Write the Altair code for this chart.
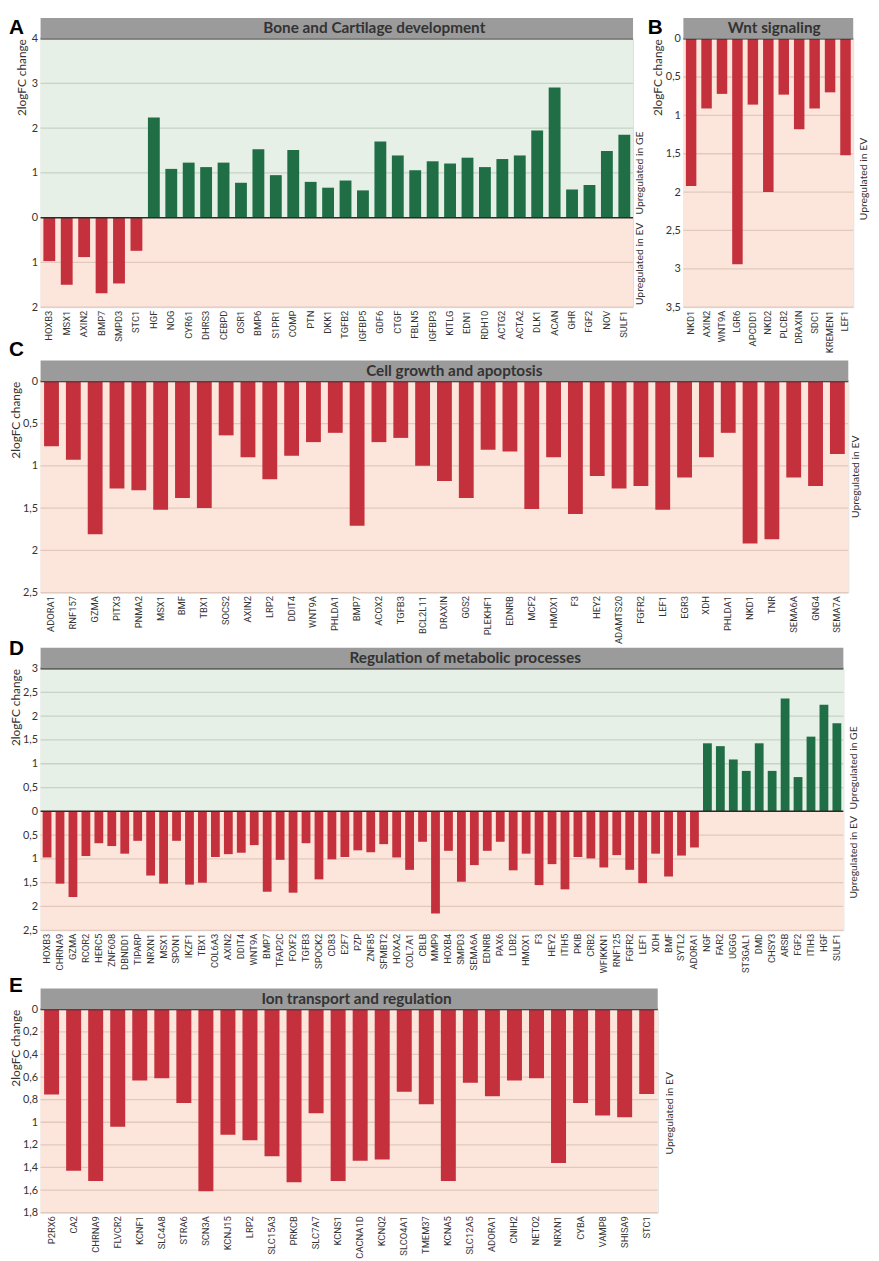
import altair as alt
import pandas as pd

FONT = "Lato"
XFONT = "Roboto"
GREEN_BG = "#e6f0e6"
PINK_BG = "#fce6dc"
GREEN_BAR = "#1f6e45"
RED_BAR = "#c5303d"
GRID_G = "#c6d3c6"
GRID_P = "#e3c8bd"
HEADER = "#9b9b9b"
DARK = "#2b2b2b"
TXT = "#333333"

# ---------------- data (negative = upregulated in EV, positive = upregulated in GE)
a_genes = ["HOXB3", "MSX1", "AXIN2", "BMP7", "SMPD3", "STC1", "HGF", "NOG", "CYR61", "DHRS3",
           "CEBPD", "OSR1", "BMP6", "S1PR1", "COMP", "PTN", "DKK1", "TGFB2", "IGFBP5", "GDF6",
           "CTGF", "FBLN5", "IGFBP3", "KITLG", "EDN1", "RDH10", "ACTG2", "ACTA2", "DLK1", "ACAN",
           "GHR", "FGF2", "NOV", "SULF1"]
a_values = [-0.97, -1.50, -0.88, -1.69, -1.47, -0.74, 2.24, 1.09, 1.23, 1.13,
            1.23, 0.78, 1.53, 0.95, 1.51, 0.80, 0.67, 0.83, 0.61, 1.70,
            1.39, 1.06, 1.26, 1.21, 1.34, 1.13, 1.31, 1.39, 1.95, 2.91,
            0.63, 0.73, 1.49, 1.85]

b_genes = ["NKD1", "AXIN2", "WNT9A", "LGR6", "APCDD1", "NKD2", "PLCB2", "DRAXIN", "SDC1",
           "KREMEN1", "LEF1"]
b_values = [-1.92, -0.91, -0.72, -2.94, -0.86, -2.00, -0.73, -1.18, -0.91, -0.70, -1.52]

c_genes = ["ADORA1", "RNF157", "GZMA", "PITX3", "PNMA2", "MSX1", "BMF", "TBX1", "SOCS2", "AXIN2",
           "LRP2", "DDIT4", "WNT9A", "PHLDA1", "BMP7", "ACOX2", "TGFB3", "BCL2L11", "DRAXIN", "G0S2",
           "PLEKHF1", "EDNRB", "MCF2", "HMOX1", "F3", "HEY2", "ADAMTS20", "FGFR2", "LEF1", "EGR3",
           "XDH", "PHLDA1", "NKD1", "TNR", "SEMA6A", "GNG4", "SEMA7A"]
c_values = [-0.77, -0.93, -1.81, -1.27, -1.29, -1.52, -1.38, -1.50, -0.64, -0.90,
            -1.16, -0.88, -0.72, -0.61, -1.71, -0.72, -0.67, -1.00, -1.18, -1.38,
            -0.81, -0.83, -1.51, -0.90, -1.57, -1.12, -1.27, -1.24, -1.52, -1.14,
            -0.90, -0.61, -1.92, -1.87, -1.14, -1.24, -0.86]

d_genes = ["HOXB3", "CHRNA9", "GZMA", "RCOR2", "HERC5", "ZNF608", "DBNDD1", "TIPARP", "NRXN1", "MSX1",
           "SPON1", "IKZF1", "TBX1", "COL6A3", "AXIN2", "DDIT4", "WNT9A", "BMP7", "TFAP2C", "FOXF2",
           "TGFB3", "SPOCK2", "CD83", "E2F7", "PZP", "ZNF85", "SFMBT2", "HOXA2", "COL7A1", "CBLB",
           "MMP9", "HOXB4", "SMPD3", "SEMA6A", "EDNRB", "PAX6", "LDB2", "HMOX1", "F3", "HEY2",
           "ITIH5", "PKIB", "CRB2", "WFIKKN1", "RNF125", "FGFR2", "LEF1", "XDH", "BMF", "SYTL2",
           "ADORA1", "NGF", "FAR2", "UGGG", "ST3GAL1", "DMD", "CHSY3", "ARSB", "FGF2", "ITIH3",
           "HGF", "SULF1"]
d_values = [-0.97, -1.52, -1.80, -0.94, -0.67, -0.73, -0.89, -0.62, -1.35, -1.52,
            -0.62, -1.54, -1.50, -0.96, -0.90, -0.87, -0.71, -1.69, -1.02, -1.71,
            -0.67, -1.43, -1.01, -0.96, -0.82, -0.86, -0.69, -0.97, -1.23, -0.64,
            -2.15, -0.83, -1.48, -1.13, -0.83, -0.64, -1.24, -0.89, -1.55, -1.11,
            -1.64, -0.96, -0.99, -1.18, -0.92, -1.23, -1.51, -0.89, -1.37, -0.93,
            -0.76, 1.43, 1.37, 1.09, 0.85, 1.43, 0.85, 2.37, 0.72, 1.57,
            2.24, 1.85]

e_genes = ["P2RX6", "CA2", "CHRNA9", "FLVCR2", "KCNF1", "SLC4A8", "STRA6", "SCN3A", "KCNJ15", "LRP2",
           "SLC15A3", "PRKCB", "SLC7A7", "KCNS1", "CACNA1D", "KCNQ2", "SLCO4A1", "TMEM37", "KCNA5",
           "SLC12A5", "ADORA1", "CNIH2", "NETO2", "NRXN1", "CYBA", "VAMP8", "SHISA9", "STC1"]
e_values = [-0.755, -1.43, -1.52, -1.04, -0.63, -0.61, -0.83, -1.61, -1.11, -1.16,
            -1.30, -1.53, -0.92, -1.52, -1.34, -1.33, -0.73, -0.84, -1.52,
            -0.65, -0.77, -0.63, -0.61, -1.36, -0.83, -0.94, -0.955, -0.75]

a_ticks = [-2, -1, 0, 1, 2, 3, 4]
b_ticks = [-3.5, -3, -2.5, -2, -1.5, -1, -0.5, 0]
c_ticks = [-2.5, -2, -1.5, -1, -0.5, 0]
d_ticks = [-2.5, -2, -1.5, -1, -0.5, 0, 0.5, 1, 1.5, 2, 2.5, 3]
e_ticks = [-1.8, -1.6, -1.4, -1.2, -1.0, -0.8, -0.6, -0.4, -0.2, 0]

HDR_H = 21


def panel(letter, title, genes, values, ticks, W, H, letter_x, letter_top, title_x,
          side, title_pad, pad):
    L, R, T, B = pad
    lo, hi = ticks[0], ticks[-1]
    yscale = alt.Scale(domain=[lo, hi], nice=False, zero=False)
    yaxis = alt.Axis(values=ticks, grid=False, domain=False, ticks=False,
                     labelExpr="replace(format(abs(datum.value), '.1~f'), '.', ',')",
                     labelFont=FONT, labelFontSize=11, labelColor=TXT,
                     labelPadding=3, title="2logFC change", titleFont=FONT,
                     titleFontSize=12, titleFontWeight="normal", titleColor=TXT,
                     titleAnchor="end", titlePadding=title_pad)

    def Y(field="y"):
        return alt.Y(f"{field}:Q", scale=yscale, axis=yaxis)

    keys = [f"{i:02d}|{g}" for i, g in enumerate(genes)]
    bars_df = pd.DataFrame({
        "key": keys,
        "y": values,
        "dir": ["GE" if v > 0 else "EV" for v in values],
    })
    one = pd.DataFrame({"t": [title], "l": [letter]})

    # invisible frame fixing the panel's layout bounds
    frame = alt.Chart(one).mark_rect(opacity=0).encode(
        x=alt.value(-L), x2=alt.value(W + R), y=alt.value(-T), y2=alt.value(H + B))

    bg_rows = [{"y": lo, "y2": 0, "c": PINK_BG}]
    if hi > 0:
        bg_rows.append({"y": 0, "y2": hi, "c": GREEN_BG})
    bg = alt.Chart(pd.DataFrame(bg_rows)).mark_rect().encode(
        x=alt.value(0), x2=alt.value(W), y=Y(), y2="y2:Q",
        color=alt.Color("c:N", scale=None),
    )

    grid_df = pd.DataFrame({"y": [t for t in ticks if t != 0 and t != hi]})
    grid_df["c"] = [GRID_G if t > 0 else GRID_P for t in grid_df["y"]]
    grid = alt.Chart(grid_df).mark_rule(strokeWidth=1.3).encode(
        x=alt.value(0), x2=alt.value(W), y=Y(),
        color=alt.Color("c:N", scale=None),
    )

    bars = alt.Chart(bars_df).mark_bar().encode(
        x=alt.X("key:O", sort=keys,
                scale=alt.Scale(paddingInner=0.32, paddingOuter=0.16),
                axis=alt.Axis(title=None, labelExpr="split(datum.label, '|')[1]",
                              labelAngle=-90, ticks=False, domain=False,
                              labelFont=XFONT, labelFontSize=9.5,
                              labelColor=TXT, labelPadding=3)),
        y=Y(),
        y2=alt.datum(0),
        color=alt.Color("dir:N", scale=alt.Scale(domain=["GE", "EV"],
                                                 range=[GREEN_BAR, RED_BAR]), legend=None),
    )

    layers = [frame, bg, grid, bars]
    if hi > 0:
        zero_line = alt.Chart(pd.DataFrame({"y": [0]})).mark_rule(
            color=DARK, strokeWidth=1.6).encode(x=alt.value(0), x2=alt.value(W), y=Y())
        layers.append(zero_line)
    top_line = alt.Chart(pd.DataFrame({"y": [hi]})).mark_rule(color=DARK, strokeWidth=2).encode(
        x=alt.value(0), x2=alt.value(W), y=Y())
    layers.append(top_line)

    for text, yv, align, off in side:
        layers.append(
            alt.Chart(pd.DataFrame({"t": [text], "y": [yv]})).mark_text(
                angle=270, align=align, baseline="middle", font=FONT,
                fontSize=10.5, color=TXT).encode(
                x=alt.value(W + off), y=Y(), text="t:N"))

    # header band with title and panel letter
    base = alt.Chart(one)
    rect = base.mark_rect(color=HEADER).encode(
        x=alt.value(0), x2=alt.value(W), y=alt.value(-HDR_H), y2=alt.value(0))
    ttl = base.mark_text(font=FONT, fontSize=15.5, fontWeight="bold", color=TXT,
                         align="center", baseline="alphabetic").encode(
        x=alt.value(title_x), y=alt.value(-5.2), text="t:N")
    let = base.mark_text(font="Liberation Sans", fontSize=21, fontWeight="bold",
                         color="#000000", align="left", baseline="top").encode(
        x=alt.value(letter_x), y=alt.value(letter_top), text="l:N")
    layers += [rect, ttl, let]

    return alt.layer(*layers).properties(width=W, height=H)


pA = panel("A", "Bone and Cartilage development", a_genes, a_values, a_ticks,
           600, 272, -32, -21.6, 338,
           [("Upregulated in GE", 0.07, "left", 7), ("Upregulated in EV", -0.11, "right", 7)],
           3, (32, 13, 22, 60))
pB = panel("B", "Wnt signaling", b_genes, b_values, b_ticks,
           172, 272, -36, -21.6, 92,
           [("Upregulated in EV", -1.83, "center", 11)], 1, (36, 17, 22, 60))
pC = panel("C", "Cell growth and apoptosis", c_genes, c_values, c_ticks,
           818, 214, -32, -42.5, 419,
           [("Upregulated in EV", -1.13, "center", 8)], 0, (32, 14, 44, 62))
pD = panel("D", "Regulation of metabolic processes", d_genes, d_values, d_ticks,
           813, 265, -32, -30.6, 430,
           [("Upregulated in GE", 0.04, "left", 11), ("Upregulated in EV", -0.1, "right", 11)],
           0, (32, 17, 44, 65))
pE = panel("E", "Ion transport and regulation", e_genes, e_values, e_ticks,
           625, 206, -32, -34.6, 320,
           [("Upregulated in EV", -0.92, "center", 12)], 0, (32, 18, 44, 40))

row1 = alt.hconcat(pA, pB, spacing=0)

chart = alt.vconcat(row1, pC, pD, pE, spacing=-31).properties(
    padding=0
).configure_view(strokeWidth=0).configure(font=FONT)

chart.save("out.html", embed_options={"renderer": "svg", "actions": False})
